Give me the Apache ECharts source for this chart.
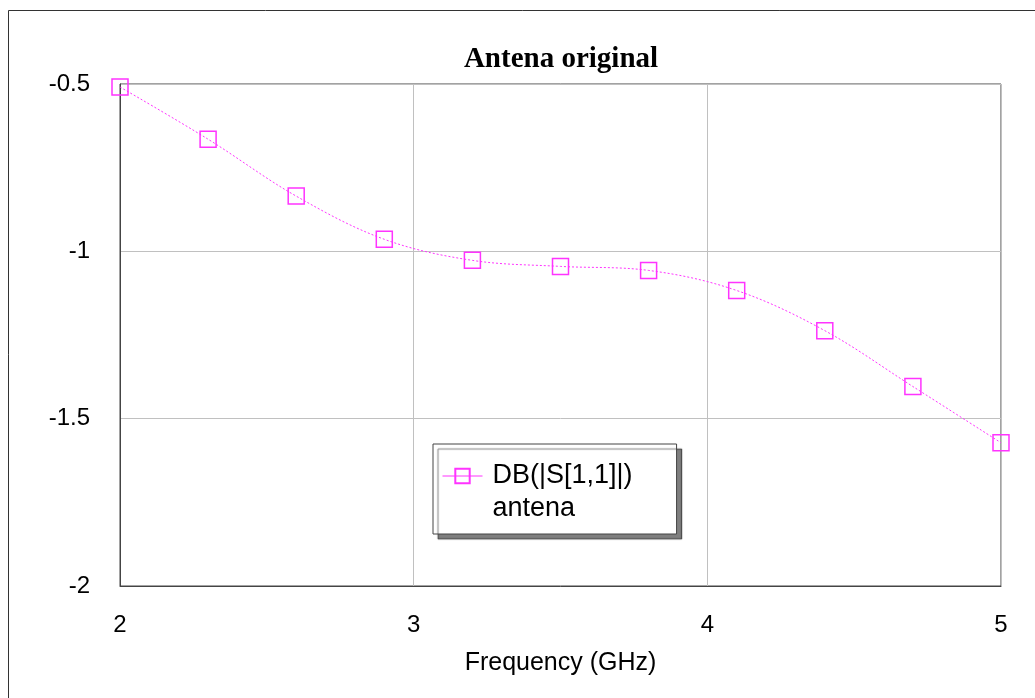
<!DOCTYPE html>
<html>
<head>
<meta charset="utf-8">
<script src="https://cdn.jsdelivr.net/npm/echarts@6/dist/echarts.min.js"></script>
<style>
  html, body { margin: 0; padding: 0; background: #fff; }
  #J_chart { width: 1035px; height: 698px; }
</style>
</head>
<body>
<div id="J_chart"></div>
<script>
var freqs = [2.0, 2.3, 2.6, 2.9, 3.2, 3.5, 3.8, 4.1, 4.4, 4.7, 5.0];
var s11db = [-0.509, -0.665, -0.835, -0.964, -1.027, -1.045, -1.057, -1.117, -1.237, -1.404, -1.572];
var xTicks = [2, 3, 4, 5];
var yTicks = [-2, -1.5, -1, -0.5];

(function(){
    var myChart = echarts.init(document.getElementById('J_chart'));
    var pts = freqs.map(function(f, i){ return [f, s11db[i]]; });
    var sans = '"Liberation Sans", Arial, sans-serif';

    var option = {
        animation: false,
        backgroundColor: '#fff',
        title: {
            left: 556,
            textAlign: 'center',
            top: 40,
            text: 'Antena original',
            textStyle: {
                color: '#000',
                fontFamily: '"Liberation Serif", "Times New Roman", serif',
                fontWeight: 'bold',
                fontSize: 29
            }
        },
        graphic: [{
            type: 'rect',
            shape: { x: 8.5, y: 10.5, width: 1040, height: 700 },
            style: { fill: null, stroke: '#333', lineWidth: 1 },
            silent: true
        }],
        legend: {
            left: 433,
            top: 444,
            orient: 'vertical',
            padding: [17, 44, 10, 9],
            backgroundColor: '#fff',
            borderColor: '#444',
            borderWidth: 1,
            shadowColor: 'rgba(0,0,0,0.5)',
            shadowOffsetX: 5,
            shadowOffsetY: 5,
            shadowBlur: 1,
            itemWidth: 40,
            itemHeight: 18,
            itemGap: 3,
            selectedMode: false,
            lineStyle: { type: 'solid', width: 1 },
            textStyle: {
                color: '#000',
                fontFamily: sans,
                fontSize: 27,
                lineHeight: 30,
                padding: [0, 0, 0, 5]
            },
            data: ['DB(|S[1,1]|)', { name: 'antena', icon: 'none' }]
        },
        grid: {
            left: 120,
            right: 34,
            top: 84,
            bottom: 112,
            show: true,
            borderColor: '#444',
            borderWidth: 1
        },
        xAxis: {
            type: 'value',
            min: 2,
            max: 5,
            interval: 1,
            name: 'Frequency (GHz)',
            nameLocation: 'middle',
            nameGap: 65,
            nameTextStyle: {
                color: '#000',
                fontFamily: sans,
                fontSize: 25
            },
            axisLine: { show: true, lineStyle: { color: '#444', width: 1 } },
            axisTick: { show: false },
            axisLabel: {
                color: '#000',
                margin: 27,
                fontFamily: sans,
                fontSize: 24,
                customValues: xTicks
            },
            splitLine: { show: true, lineStyle: { color: '#c0c0c0', width: 1 } }
        },
        yAxis: {
            type: 'value',
            min: -2,
            max: -0.5,
            interval: 0.5,
            axisLine: { show: true, lineStyle: { color: '#444', width: 1 } },
            axisTick: { show: false },
            axisLabel: {
                color: '#000',
                margin: 30,
                fontFamily: sans,
                fontSize: 24,
                padding: [4, 0, 0, 0],
                customValues: yTicks
            },
            splitLine: { show: true, lineStyle: { color: '#c0c0c0', width: 1 } }
        },
        series: [{
            name: 'DB(|S[1,1]|)',
            type: 'line',
            smooth: 0.35,
            symbol: 'rect',
            symbolSize: 16,
            showAllSymbol: true,
            itemStyle: { color: 'transparent', borderColor: '#ff33ff', borderWidth: 1.5 },
            lineStyle: { color: '#ff33ff', width: 1, type: [2, 2] },
            data: pts
        }, {
            name: 'antena',
            type: 'line',
            silent: true,
            symbol: 'none',
            data: []
        }]
    };

    myChart.setOption(option);
})();
</script>
</body>
</html>
